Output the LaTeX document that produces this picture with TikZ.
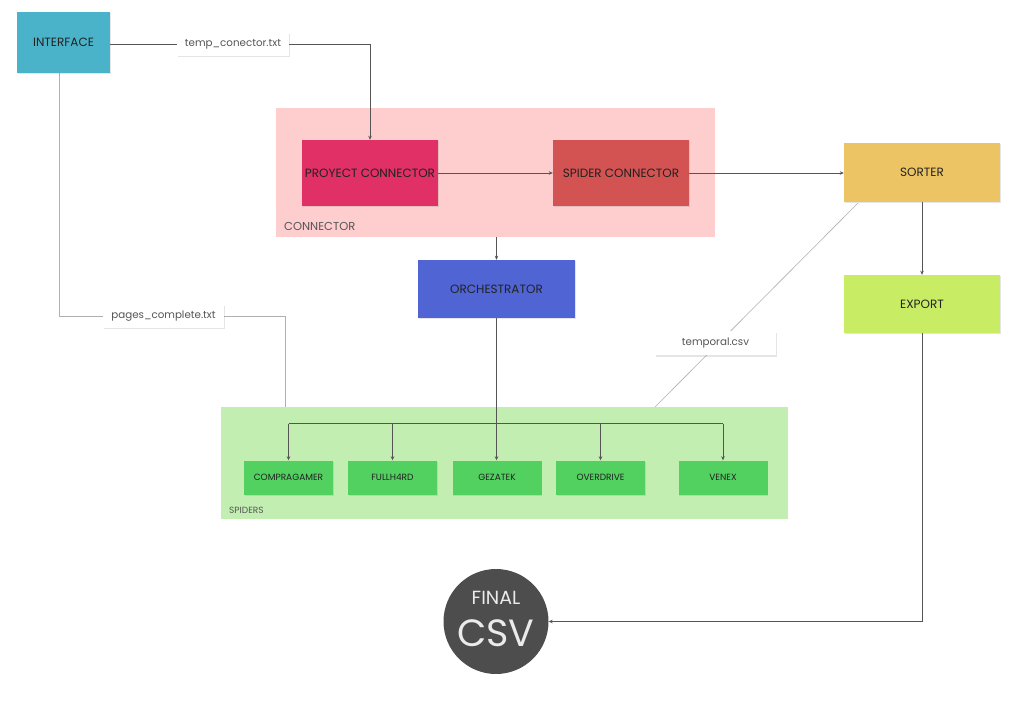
\documentclass[tikz,border=0pt]{standalone}
\usepackage{fontspec}
\setmainfont{Poppins}
\usetikzlibrary{arrows.meta,shadows}
\definecolor{cIface}{HTML}{4AB3C9}
\definecolor{cConnBg}{HTML}{FECDCE}
\definecolor{cProy}{HTML}{E03066}
\definecolor{cSpc}{HTML}{D35252}
\definecolor{cSorter}{HTML}{ECC464}
\definecolor{cExport}{HTML}{C8EC64}
\definecolor{cOrch}{HTML}{5064D4}
\definecolor{cSpBg}{HTML}{C2EEB2}
\definecolor{cSpider}{HTML}{52D160}
\definecolor{cFinal}{HTML}{4D4D4D}
\definecolor{cTxt}{HTML}{222222}
\definecolor{cLbl}{HTML}{555555}
\definecolor{cLine}{HTML}{555555}
\definecolor{cLight}{HTML}{B0B0B0}
\pgfdeclarelayer{back}
\pgfdeclarelayer{mid}
\pgfsetlayers{back,mid,main}
\begin{document}
\begin{tikzpicture}[x=1pt,y=-1pt,
  box/.style={draw=none, inner sep=0pt, text=cTxt, font=\fontsize{12}{14}\selectfont,
    drop shadow={opacity=0.2, shadow xshift=0.5pt, shadow yshift=-1.5pt}},
  spider/.style={box, fill=cSpider, minimum width=89pt, minimum height=34pt, font=\fontsize{9}{11}\selectfont},
  lbl/.style={fill=white, inner sep=0pt, text=cLbl, font=\fontsize{10.3}{12}\selectfont,
    drop shadow={opacity=0.2, shadow xshift=0.5pt, shadow yshift=-1.5pt}},
  group/.style={draw=none, inner sep=0pt},
  grouplbl/.style={anchor=base west, inner sep=0pt, text=cLbl},
  arrow/.style={draw=cLine, line width=0.6pt, -{Stealth[length=4pt,width=3.5pt]}},
  plain/.style={draw=cLine, line width=0.6pt},
  light/.style={draw=cLight, line width=0.6pt}
]
\begin{pgfonlayer}{back}
\fill[white] (0,0) rectangle (1031,703);
\end{pgfonlayer}
\useasboundingbox (0,0) rectangle (1031,703);

% groups
\begin{pgfonlayer}{back}
\node[group, fill=cConnBg, minimum width=439pt, minimum height=129pt] (conngrp) at (495.5,172.5) {};
\node[group, fill=cSpBg, minimum width=567pt, minimum height=112pt] (spgrp) at (504.5,463) {};
\end{pgfonlayer}
\node[grouplbl, font=\fontsize{11.5}{13}\selectfont] (connlbl) at (284,230.5) {CONNECTOR};
\node[grouplbl, font=\fontsize{9}{10}\selectfont] (splbl) at (229,513.5) {SPIDERS};

% boxes
\node[box, fill=cIface, minimum width=93pt, minimum height=61pt] (iface) at (63.5,42.5) {INTERFACE};
\node[box, fill=cProy, minimum width=136pt, minimum height=66pt] (proy) at (370,173) {PROYECT CONNECTOR};
\node[box, fill=cSpc, minimum width=136pt, minimum height=66pt] (spc) at (621,173) {SPIDER CONNECTOR};
\node[box, fill=cSorter, minimum width=156pt, minimum height=59pt] (sorter) at (922,172.5) {SORTER};
\node[box, fill=cExport, minimum width=156pt, minimum height=58pt] (export) at (922,304) {EXPORT};
\node[box, fill=cOrch, minimum width=157pt, minimum height=58pt] (orch) at (496.5,289) {ORCHESTRATOR};

\node[spider] (comp) at (288.5,477.5) {COMPRAGAMER};
\node[spider] (full) at (392.5,477.5) {FULLH4RD};
\node[spider] (gez) at (497,477.5) {GEZATEK};
\node[spider] (over) at (600.5,477.5) {OVERDRIVE};
\node[spider] (venex) at (723,477.5) {VENEX};

\node[circle, fill=cFinal, minimum size=105pt, inner sep=0pt] (final) at (496,621.5) {};
\node[text=white!92!black, font=\fontsize{19}{20}\selectfont, anchor=base] (finalt) at (496,604) {FINAL};
\node[text=white!92!black, font=\fontsize{38}{40}\selectfont, anchor=base] (csvt) at (496,646) {CSV};

% labels on connectors
\node[lbl, minimum width=112pt, minimum height=23pt] (templ) at (233,44.5) {temp\_conector.txt};
\node[lbl, minimum width=121pt, minimum height=23pt] (pagesl) at (163.5,316.5) {pages\_complete.txt};
\node[lbl, minimum width=121pt, minimum height=24pt] (tempo) at (715.5,343.5) {temporal.csv};

\coordinate (bus) at (497,423.5);
\coordinate (pgend) at (285,407);
\coordinate (tmpA) at (858,203);
\coordinate (tmpB) at (655,407);

% connectors
\begin{pgfonlayer}{mid}
\draw[plain] (iface.east |- templ) -- (templ.west);
\draw[arrow] (templ.east) -| (proy.north);
\draw[arrow] (proy.east) -- (spc.west);
\draw[arrow] (spc.east) -- (spc.east -| sorter.west);
\draw[arrow] (sorter.south) -- (export.north);
\draw[arrow] (export.south) |- (final.east);
\draw[arrow] (orch.north |- conngrp.south) -- (orch.north);
\draw[arrow] (orch.south) -- (orch.south |- gez.north);
\draw[plain] (comp.north |- bus) -- (venex.north |- bus);
\draw[arrow] (comp.north |- bus) -- (comp.north);
\draw[arrow] (full.north |- bus) -- (full.north);
\draw[arrow] (over.north |- bus) -- (over.north);
\draw[arrow] (venex.north |- bus) -- (venex.north);
\draw[light] ([xshift=-4pt]iface.south) |- (pagesl.west);
\draw[light] (pagesl.east) -| (pgend);
\draw[light] (tmpA) -- (tmpB);
\end{pgfonlayer}
\end{tikzpicture}
\end{document}
